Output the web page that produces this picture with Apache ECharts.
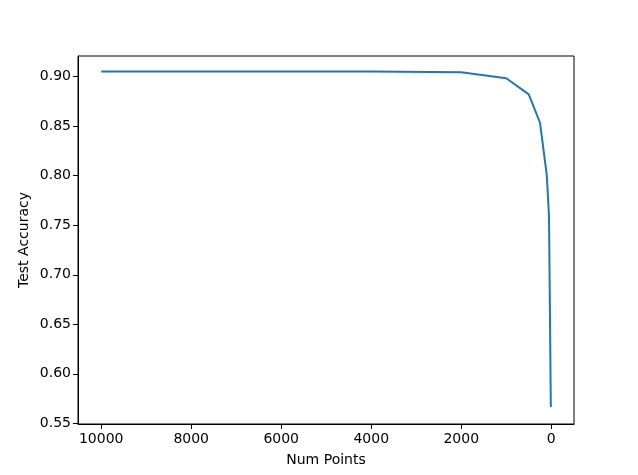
<!DOCTYPE html>
<html>
<head>
<meta charset="utf-8">
<script src="https://cdn.jsdelivr.net/npm/echarts@6/dist/echarts.min.js"></script>
<style>html,body{margin:0;padding:0;background:#fff}#c{width:638px;height:475px}</style>
</head>
<body>
<div id="c"></div>
<script>
const numPoints = [10000, 4000, 2000, 1000, 500, 250, 100, 50, 10];
const testAccuracy = [0.9052, 0.9053, 0.9045, 0.8984, 0.8822, 0.8535, 0.8007, 0.7586, 0.5664];
const xTicks = [0, 2000, 4000, 6000, 8000, 10000];
const yTicks = [0.55, 0.60, 0.65, 0.70, 0.75, 0.80, 0.85, 0.90];

const font = 'DejaVu Sans';
const chart = echarts.init(document.getElementById('c'), null, {renderer: 'canvas'});
chart.setOption({
  animation: false,
  grid: {left: 78, right: 64, top: 56, bottom: 51, show: true, borderColor: '#000', borderWidth: 1, backgroundColor: 'transparent'},
  xAxis: {
    type: 'value', inverse: true, min: -505, max: 10515,
    name: 'Num Points', nameLocation: 'middle', nameGap: 29, nameMoveOverlap: false,
    nameTextStyle: {fontFamily: font, fontSize: 14, color: '#000'},
    axisLine: {show: true, onZero: false, lineStyle: {color: '#000', width: 1}},
    axisTick: {show: true, length: 5, customValues: xTicks, lineStyle: {color: '#000'}},
    axisLabel: {customValues: xTicks, fontFamily: font, fontSize: 14, color: '#000', margin: 8,
      formatter: v => String(v)},
    splitLine: {show: false}
  },
  yAxis: {
    type: 'value', min: 0.5493, max: 0.9209,
    name: 'Test Accuracy', nameLocation: 'middle', nameGap: 47, nameMoveOverlap: false,
    nameTextStyle: {fontFamily: font, fontSize: 14, color: '#000'},
    axisLine: {show: true, onZero: false, lineStyle: {color: '#000', width: 1}},
    axisTick: {show: true, length: 5, customValues: yTicks, lineStyle: {color: '#000'}},
    axisLabel: {customValues: yTicks, fontFamily: font, fontSize: 14, color: '#000', margin: 7,
      formatter: v => v.toFixed(2)},
    splitLine: {show: false}
  },
  series: [{
    type: 'line',
    data: numPoints.map((x, i) => [x, testAccuracy[i]]),
    showSymbol: false,
    lineStyle: {color: '#1f77b4', width: 2},
    itemStyle: {color: '#1f77b4'}
  }]
});
</script>
</body>
</html>
